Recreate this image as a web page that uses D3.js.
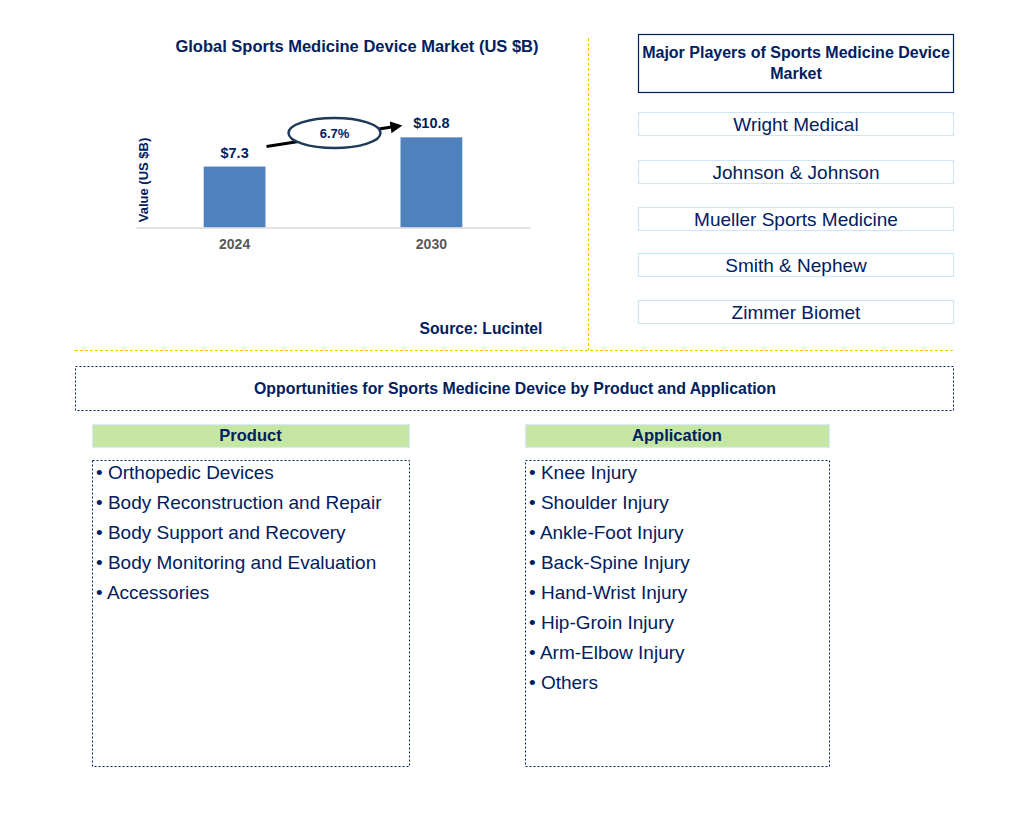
<!DOCTYPE html>
<html>
<head>
<meta charset="utf-8">
<script src="https://cdn.jsdelivr.net/npm/d3@7"></script>
<style>
  body { margin: 0; background: #fff; }
  svg { display: block; font-family: "Liberation Sans", Arial, sans-serif; }
</style>
</head>
<body>
<svg id="chart" width="1018" height="827"></svg>
<script>
const years = ["2024", "2030"];
const values = [7.3, 10.8];
const valueLabels = ["$7.3", "$10.8"];
const cagr = "6.7%";
const players = ["Wright Medical", "Johnson & Johnson", "Mueller Sports Medicine", "Smith & Nephew", "Zimmer Biomet"];
const products = ["Orthopedic Devices", "Body Reconstruction and Repair", "Body Support and Recovery", "Body Monitoring and Evaluation", "Accessories"];
const applications = ["Knee Injury", "Shoulder Injury", "Ankle-Foot Injury", "Back-Spine Injury", "Hand-Wrist Injury", "Hip-Groin Injury", "Arm-Elbow Injury", "Others"];

const navy = "#002060";
const barColor = "#4f81bd";
const orange = "#ffc000";

const chart = d3.select("#chart");

// ---- bar chart
const x = d3.scaleBand()
	.domain(years)
	.range([136, 530])
	.paddingInner(0.686)
	.paddingOuter(0.344);

const y = d3.scaleLinear()
	.domain([0, 12])
	.range([227.5, 227.5 - 8.35 * 12]);

chart.append("text")
	.text("Global Sports Medicine Device Market (US $B)")
	.attr("x", 357).attr("y", 52)
	.attr("text-anchor", "middle")
	.attr("font-size", 16.5).attr("font-weight", "bold")
	.attr("fill", navy);

chart.append("text")
	.text("Value (US $B)")
	.attr("transform", "translate(148, 180) rotate(-90)")
	.attr("text-anchor", "middle")
	.attr("font-size", 13).attr("font-weight", "bold")
	.attr("fill", navy);

const bars = chart.append("g");
bars.selectAll("rect")
	.data(values)
	.enter()
	.append("rect")
	.attr("x", (d, i) => x(years[i]))
	.attr("y", d => y(d))
	.attr("width", x.bandwidth())
	.attr("height", d => y(0) - y(d))
	.attr("fill", barColor);

bars.selectAll("text.val")
	.data(values)
	.enter()
	.append("text")
	.attr("class", "val")
	.text((d, i) => valueLabels[i])
	.attr("x", (d, i) => x(years[i]) + x.bandwidth() / 2)
	.attr("y", d => y(d) - 9)
	.attr("text-anchor", "middle")
	.attr("font-size", 14.5).attr("font-weight", "bold")
	.attr("fill", navy);

const xAxis = chart.append("g")
	.attr("transform", "translate(0," + y(0) + ")")
	.call(d3.axisBottom(x).tickSize(0).tickPadding(12));
xAxis.select(".domain").attr("stroke", "#d9d9d9").attr("stroke-width", 1.5);
xAxis.selectAll("text")
	.attr("font-family", "Liberation Sans, Arial, sans-serif")
	.attr("font-size", 14).attr("font-weight", "bold")
	.attr("fill", "#595959");

// growth arrow and CAGR ellipse
const defs = chart.append("defs");
defs.append("marker")
	.attr("id", "arrow")
	.attr("viewBox", "0 0 10 10")
	.attr("refX", 5).attr("refY", 5)
	.attr("markerWidth", 4).attr("markerHeight", 4)
	.attr("orient", "auto")
	.append("path")
	.attr("d", "M0,0 L10,5 L0,10 z")
	.attr("fill", "#000");

const x0 = x(years[0]) + x.bandwidth() + 1;
const x1 = x(years[1]) + 2;
chart.append("line")
	.attr("x1", x0).attr("y1", y(values[0]) - 20)
	.attr("x2", x1 - 6).attr("y2", y(values[1]) - 11)
	.attr("stroke", "#000").attr("stroke-width", 3)
	.attr("marker-end", "url(#arrow)");

const ex = (x0 + x1) / 2;
chart.append("ellipse")
	.attr("cx", ex).attr("cy", 133)
	.attr("rx", 46).attr("ry", 15)
	.attr("fill", "#fff")
	.attr("stroke", "#1f3b5a").attr("stroke-width", 2.5);
chart.append("text")
	.text(cagr)
	.attr("x", ex).attr("y", 138)
	.attr("text-anchor", "middle")
	.attr("font-size", 13).attr("font-weight", "bold")
	.attr("fill", navy);

chart.append("text")
	.text("Source: Lucintel")
	.attr("x", 481).attr("y", 334)
	.attr("text-anchor", "middle")
	.attr("font-size", 15.7).attr("font-weight", "bold")
	.attr("fill", navy);

// ---- separators
chart.append("line")
	.attr("x1", 588.5).attr("y1", 38).attr("x2", 588.5).attr("y2", 350)
	.attr("stroke", orange).attr("stroke-dasharray", "3,2");
chart.append("line")
	.attr("x1", 75).attr("y1", 350.5).attr("x2", 953).attr("y2", 350.5)
	.attr("stroke", orange).attr("stroke-dasharray", "3,2");

// ---- major players
chart.append("rect")
	.attr("x", 638.5).attr("y", 34.5).attr("width", 315).attr("height", 58)
	.attr("fill", "#fff").attr("stroke", navy).attr("stroke-width", 1.2);
chart.append("text")
	.attr("text-anchor", "middle")
	.attr("font-size", 16).attr("font-weight", "bold")
	.attr("fill", navy)
	.selectAll("tspan")
	.data(["Major Players of Sports Medicine Device", "Market"])
	.enter()
	.append("tspan")
	.attr("x", 796)
	.attr("y", (d, i) => 58 + i * 21)
	.text(d => d);

const playerTop = [112, 160, 207, 253, 300];
const pg = chart.append("g");
pg.selectAll("rect")
	.data(players)
	.enter()
	.append("rect")
	.attr("x", 638.5)
	.attr("y", (d, i) => playerTop[i] + 0.5)
	.attr("width", 315).attr("height", 23)
	.attr("fill", "#fff").attr("stroke", "#cfe6f6").attr("stroke-width", 1.2);
pg.selectAll("text")
	.data(players)
	.enter()
	.append("text")
	.text(d => d)
	.attr("x", 796)
	.attr("y", (d, i) => playerTop[i] + 19)
	.attr("text-anchor", "middle")
	.attr("font-size", 19)
	.attr("fill", navy);

// ---- opportunities
chart.append("rect")
	.attr("x", 75.5).attr("y", 366.5).attr("width", 878).attr("height", 44)
	.attr("fill", "none").attr("stroke", navy).attr("stroke-dasharray", "2,2");
chart.append("text")
	.text("Opportunities for Sports Medicine Device by Product and Application")
	.attr("x", 515).attr("y", 394)
	.attr("text-anchor", "middle")
	.attr("font-family", "Liberation Sans Narrow, Arial Narrow, Liberation Sans, sans-serif")
	.attr("font-size", 16.5).attr("font-weight", "bold")
	.attr("textLength", 522).attr("lengthAdjust", "spacingAndGlyphs")
	.attr("fill", navy);

function column(left, width, title, items) {
	const g = chart.append("g");
	g.append("rect")
		.attr("x", left + 0.5).attr("y", 424.5).attr("width", width).attr("height", 23)
		.attr("fill", "#c6e7a3").attr("stroke", "#d6eaf8").attr("stroke-width", 1.2);
	g.append("text")
		.text(title)
		.attr("x", left + width / 2).attr("y", 441)
		.attr("text-anchor", "middle")
		.attr("font-family", "Liberation Sans Narrow, Arial Narrow, Liberation Sans, sans-serif")
		.attr("font-size", 16.5).attr("font-weight", "bold")
		.attr("fill", navy);
	g.append("rect")
		.attr("x", left + 0.5).attr("y", 460.5).attr("width", width).attr("height", 306)
		.attr("fill", "none").attr("stroke", navy).attr("stroke-dasharray", "2,2");
	g.selectAll("text.item")
		.data(items)
		.enter()
		.append("text")
		.attr("class", "item")
		.text(d => "\u2022 " + d)
		.attr("x", left + 4)
		.attr("y", (d, i) => 479 + i * 30)
		.attr("font-size", 19)
		.attr("fill", navy);
}

column(92, 317, "Product", products);
column(525, 304, "Application", applications);
</script>
</body>
</html>
